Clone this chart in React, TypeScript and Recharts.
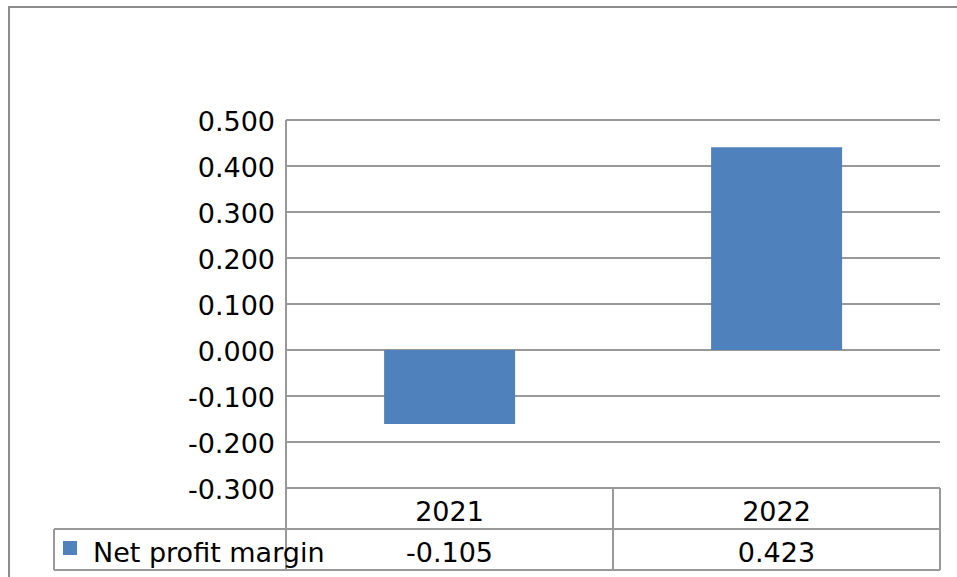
import { BarChart, Bar, XAxis, YAxis, CartesianGrid } from 'recharts'

const categories = ['2021', '2022']
const barValues = [-0.161, 0.441]
const tableValues = ['-0.105', '0.423']
const yTicks = [-0.3, -0.2, -0.1, 0, 0.1, 0.2, 0.3, 0.4, 0.5]
const seriesName = 'Net profit margin'

const BLUE = '#4F81BD'
const LINE = '#999999'
const FONT = '"DejaVu Sans", sans-serif'
const FS = 27

const data = categories.map((c, i) => ({ year: c, value: barValues[i] }))

const ROW_H = 41
const LEGEND_LEFT = 54

function TableTick(props: any) {
  const { x, y, payload, index } = props
  const half = payload?.offset ? payload.offset : 163.5
  const left = x - half
  const right = x + half
  const r1 = y + ROW_H
  const r2 = y + ROW_H * 2
  return (
    <g>
      <text x={x} y={y + 25} textAnchor="middle" dominantBaseline="middle" fontSize={FS} fontFamily={FONT} fill="#000">
        {payload.value}
      </text>
      <text x={x} y={r1 + 25} textAnchor="middle" dominantBaseline="middle" fontSize={FS} fontFamily={FONT} fill="#000">
        {tableValues[index]}
      </text>
      <line x1={right} y1={y} x2={right} y2={r2} stroke={LINE} strokeWidth={2} />
      <line x1={index === 0 ? LEGEND_LEFT : left} y1={r1} x2={right} y2={r1} stroke={LINE} strokeWidth={2} />
      <line x1={index === 0 ? LEGEND_LEFT : left} y1={r2} x2={right} y2={r2} stroke={LINE} strokeWidth={2} />
      {index === 0 && (
        <g>
          <line x1={left} y1={y} x2={left} y2={r2} stroke={LINE} strokeWidth={2} />
          <line x1={LEGEND_LEFT} y1={r1} x2={LEGEND_LEFT} y2={r2} stroke={LINE} strokeWidth={2} />
          <rect x={63} y={r1 + 12} width={14} height={14} fill={BLUE} />
          <text x={93} y={r1 + 25} dominantBaseline="middle" fontSize={FS} fontFamily={FONT} fill="#000">
            {seriesName}
          </text>
        </g>
      )}
    </g>
  )
}

function YTick(props: any) {
  const { x, y, payload } = props
  return (
    <text x={x} y={y + 3} textAnchor="end" dominantBaseline="middle" fontSize={FS} fontFamily={FONT} fill="#000">
      {Number(payload.value).toFixed(3)}
    </text>
  )
}

export default function App() {
  return (
    <div style={{ position: 'absolute', left: 0, top: 0, width: 957, height: 577, overflow: 'hidden', background: '#fff' }}>
      <div style={{ position: 'absolute', left: 8, top: 6, width: 1100, height: 1100, border: '2px solid #8c8c8c' }} />
      <div style={{ position: 'absolute', left: 0, top: 0 }}>
        <BarChart
          width={957}
          height={577}
          data={data}
          margin={{ top: 120, right: 17, bottom: 7, left: 0 }}
          barCategoryGap="30%"
        >
          <CartesianGrid vertical={false} stroke={LINE} strokeWidth={2} />
          <XAxis
            dataKey="year"
            axisLine={false}
            tickLine={false}
            tickSize={0}
            tickMargin={0}
            height={82}
            interval={0}
            tick={<TableTick />}
          />
          <YAxis
            width={286}
            domain={[-0.3, 0.5]}
            ticks={yTicks}
            interval={0}
            axisLine={{ stroke: LINE, strokeWidth: 2 }}
            tickLine={false}
            tickSize={0}
            tickMargin={11}
            tick={<YTick />}
          />
          <Bar dataKey="value" fill={BLUE} isAnimationActive={false} />
        </BarChart>
      </div>
    </div>
  )
}
